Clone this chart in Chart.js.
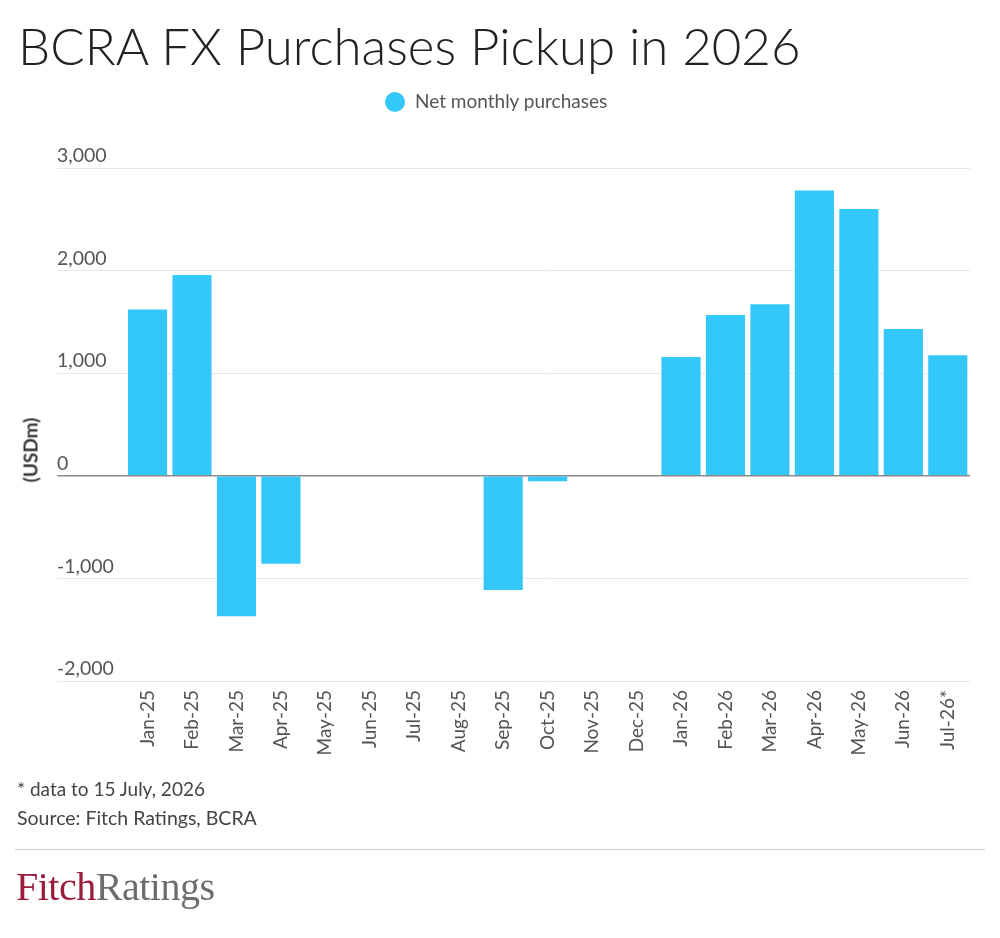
<!DOCTYPE html>
<html>
<head>
<meta charset="utf-8">
<script src="https://cdn.jsdelivr.net/npm/chart.js@4/dist/chart.umd.min.js"></script>
<style>
  html, body { margin: 0; padding: 0; background: #fff; }
  #wrap { position: relative; width: 1000px; height: 938px; overflow: hidden; font-family: Lato, "Open Sans", sans-serif; }
  #c { position: absolute; left: 0; top: 0; }
  .abs { position: absolute; white-space: nowrap; }
  #title { left: 18px; top: 20px; font-size: 51px; line-height: 51px; font-weight: 300; color: #222; }
  #legend { left: 385px; top: 90px; font-size: 19px; line-height: 22px; color: #555; }
  #legend .dot { display: inline-block; width: 20px; height: 20px; border-radius: 50%; background: #33c7fa; vertical-align: -4px; margin-right: 10px; }
  #ytitle { left: 30px; top: 450px; font-size: 19px; font-weight: 700; color: #333; transform: translate(-50%, -50%) rotate(-90deg); }
  #note { left: 17px; top: 778px; font-size: 19px; line-height: 22px; color: #444; }
  #src { left: 17px; top: 807px; font-size: 19.5px; line-height: 22px; color: #444; }
  #sep { left: 15px; top: 849px; width: 970px; height: 1px; background: #cfcfcf; }
  #logo { left: 16px; top: 867px; font-family: "Liberation Serif", "DejaVu Serif", serif; font-size: 40px; line-height: 40px; letter-spacing: -0.5px; }
  #logo .f { color: #9b1c3c; }
  #logo .r { color: #6b6d70; }
</style>
</head>
<body>
<div id="wrap">
  <canvas id="c" width="1000" height="938"></canvas>
  <div class="abs" id="title">BCRA FX Purchases Pickup in 2026</div>
  <div class="abs" id="legend"><span class="dot"></span>Net monthly purchases</div>
  <div class="abs" id="ytitle">(USDm)</div>
  <div class="abs" id="note">* data to 15 July, 2026</div>
  <div class="abs" id="src">Source: Fitch Ratings, BCRA</div>
  <div class="abs" id="sep"></div>
  <div class="abs" id="logo"><span class="f">Fitch</span><span class="r">Ratings</span></div>
</div>
<script>
const categories = ["Jan-25","Feb-25","Mar-25","Apr-25","May-25","Jun-25","Jul-25","Aug-25","Sep-25","Oct-25","Nov-25","Dec-25","Jan-26","Feb-26","Mar-26","Apr-26","May-26","Jun-26","Jul-26*"];
const netPurchases = [1622, 1958, -1368, -857, 0, 0, 0, 0, -1113, -53, 0, 0, 1157, 1567, 1671, 2780, 2601, 1430, 1174];
const yTicks = [-2000, -1000, 0, 1000, 2000, 3000];
const seriesName = "Net monthly purchases";

const fmt = v => v.toLocaleString('en-US');

new Chart(document.getElementById('c'), {
  type: 'bar',
  data: {
    labels: categories,
    datasets: [{
      label: seriesName,
      data: netPurchases,
      backgroundColor: '#33c7fa',
      borderWidth: 0,
      barPercentage: 0.88,
      categoryPercentage: 1.0
    }]
  },
  options: {
    responsive: false,
    animation: false,
    devicePixelRatio: 1,
    layout: { padding: { left: 57, right: 30, top: 168, bottom: 177 } },
    plugins: { legend: { display: false }, title: { display: false }, tooltip: { enabled: false } },
    scales: {
      x: {
        grid: { display: false, drawTicks: false },
        border: { display: false },
        ticks: {
          autoSkip: false, maxRotation: 90, minRotation: 90, padding: 9,
          color: '#555', font: { family: 'Lato', size: 19 }
        },
        afterFit: s => { s.height = 80; }
      },
      y: {
        min: -2000, max: 3000,
        afterBuildTicks: s => { s.ticks = yTicks.map(v => ({ value: v })); },
        grid: {
          color: c => (c.tick && c.tick.value === 0) ? '#8a8a8a' : '#e8e8e8',
          lineWidth: c => (c.tick && c.tick.value === 0) ? 1.5 : 1,
          tickLength: 68
        },
        border: { display: false },
        ticks: {
          crossAlign: 'far', labelOffset: -12, padding: 0,
          color: '#555', font: { family: 'Lato', size: 19.5 },
          callback: v => fmt(v)
        },
        afterFit: s => { s.width = 68.3; }
      }
    }
  }
});
</script>
</body>
</html>
